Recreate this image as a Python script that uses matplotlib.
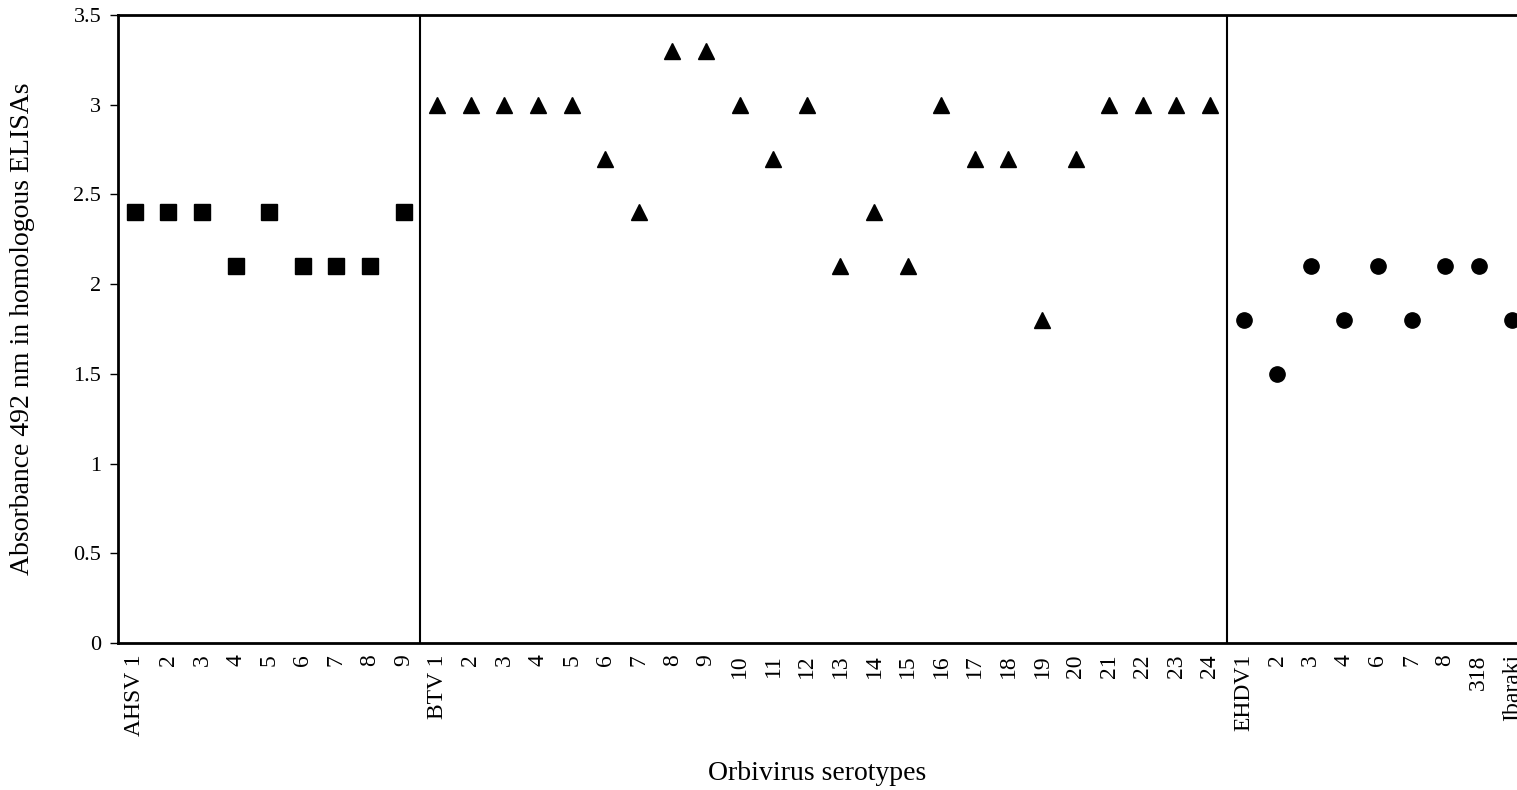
import matplotlib
matplotlib.use("Agg")
import matplotlib.pyplot as plt

plt.rcParams["font.family"] = ["Liberation Serif", "DejaVu Serif"]

# Absorbance values
ahsv_labels = ["AHSV 1", "2", "3", "4", "5", "6", "7", "8", "9"]
ahsv_values = [2.4, 2.4, 2.4, 2.1, 2.4, 2.1, 2.1, 2.1, 2.4]

btv_labels = ["BTV 1"] + [str(i) for i in range(2, 25)]
btv_values = [3.0, 3.0, 3.0, 3.0, 3.0, 2.7, 2.4, 3.3, 3.3, 3.0, 2.7, 3.0,
              2.1, 2.4, 2.1, 3.0, 2.7, 2.7, 1.8, 2.7, 3.0, 3.0, 3.0, 3.0]

ehdv_labels = ["EHDV1", "2", "3", "4", "6", "7", "8", "318", "Ibaraki"]
ehdv_values = [1.8, 1.5, 2.1, 1.8, 2.1, 1.8, 2.1, 2.1, 1.8]

all_labels = ahsv_labels + btv_labels + ehdv_labels
x_ahsv = list(range(1, len(ahsv_labels) + 1))
x_btv = list(range(len(ahsv_labels) + 1, len(ahsv_labels) + len(btv_labels) + 1))
x_ehdv = list(range(x_btv[-1] + 1, x_btv[-1] + len(ehdv_labels) + 1))

fig = plt.figure(figsize=(15.17, 7.9), dpi=100)
ax = fig.add_axes([0.0778, 0.186, 0.9222, 0.795])

ax.plot(x_ahsv, ahsv_values, linestyle="none", marker="s", markersize=11, color="black")
ax.plot(x_btv, btv_values, linestyle="none", marker="^", markersize=12, color="black")
ax.plot(x_ehdv, ehdv_values, linestyle="none", marker="o", markersize=11, color="black")

# separators between virus groups
ax.vlines([x_ahsv[-1] + 0.5, x_btv[-1] + 0.5], 0, 3.5, color="black", linewidth=1.5)

ax.set_xlim(0.5, 42.14)
ax.set_ylim(0, 3.5)
ax.set_yticks([0, 0.5, 1, 1.5, 2, 2.5, 3, 3.5])
ax.set_yticklabels(["0", "0.5", "1", "1.5", "2", "2.5", "3", "3.5"])
ax.set_xticks(x_ahsv + x_btv + x_ehdv)
ax.set_xticklabels(all_labels, rotation=90, va="top", ha="center")

ax.tick_params(axis="x", length=0, pad=8, labelsize=17)
ax.tick_params(axis="y", length=6, width=1, direction="out", pad=6, labelsize=16)

for side in ["left", "bottom", "top"]:
    ax.spines[side].set_linewidth(2)
ax.spines["right"].set_visible(False)

ax.set_xlabel("Orbivirus serotypes", fontsize=20, labelpad=18)
ax.set_ylabel("Absorbance 492 nm in homologous ELISAs", fontsize=20, labelpad=28)

fig.savefig("out.png", dpi=100)
